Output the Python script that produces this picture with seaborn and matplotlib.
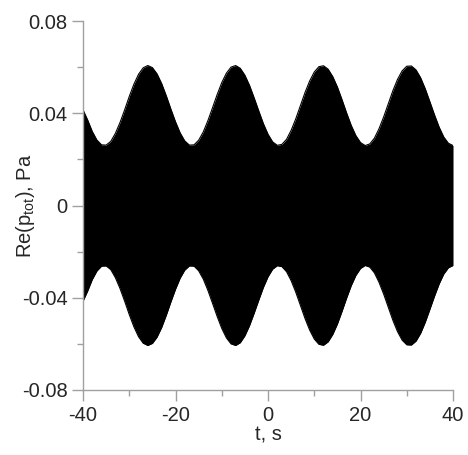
import numpy as np
import pandas as pd
import matplotlib
matplotlib.use("Agg")
import matplotlib.pyplot as plt
from matplotlib.ticker import MultipleLocator, FixedLocator
import seaborn as sns

# envelope of Re(p_tot), one value per second
t_s = list(range(-40, 41))
env_pa = [0.0415, 0.0371, 0.0321, 0.0284, 0.0263, 0.0262, 0.0278, 0.0313, 0.0360, 0.0415,
          0.0473, 0.0526, 0.0569, 0.0597, 0.0607, 0.0598, 0.0571, 0.0529, 0.0476, 0.0418,
          0.0363, 0.0315, 0.0280, 0.0262, 0.0263, 0.0283, 0.0319, 0.0368, 0.0424, 0.0481,
          0.0533, 0.0574, 0.0600, 0.0607, 0.0595, 0.0565, 0.0521, 0.0467, 0.0410, 0.0355,
          0.0309, 0.0276, 0.0261, 0.0265, 0.0287, 0.0326, 0.0376, 0.0433, 0.0490, 0.0540,
          0.0579, 0.0602, 0.0606, 0.0591, 0.0559, 0.0514, 0.0459, 0.0401, 0.0347, 0.0303,
          0.0273, 0.0260, 0.0267, 0.0292, 0.0333, 0.0384, 0.0441, 0.0498, 0.0547, 0.0584,
          0.0604, 0.0605, 0.0588, 0.0554, 0.0506, 0.0450, 0.0393, 0.0340, 0.0297, 0.0270,
          0.0260]

xticks = [-40, -20, 0, 20, 40]
xtick_labels = ["-40", "-20", "0", "20", "40"]
yticks = [-0.08, -0.04, 0, 0.04, 0.08]
ytick_labels = ["-0.08", "-0.04", "0", "0.04", "0.08"]

df = pd.DataFrame({"t": t_s, "upper": env_pa})
df["lower"] = -df["upper"]

sns.set_style("ticks")
plt.rcParams["font.family"] = ["Liberation Sans", "DejaVu Sans"]
plt.rcParams["mathtext.fontset"] = "custom"
plt.rcParams["mathtext.rm"] = "Liberation Sans"
plt.rcParams["mathtext.it"] = "Liberation Sans"
plt.rcParams["axes.unicode_minus"] = False

fig = plt.figure(figsize=(4.68, 4.55), dpi=100)
ax = fig.add_axes([0.1774, 0.1429, 0.7906, 0.8109])

sns.lineplot(data=df, x="t", y="upper", ax=ax, color="black", lw=0.8)
sns.lineplot(data=df, x="t", y="lower", ax=ax, color="black", lw=0.8)
ax.fill_between(df["t"], df["lower"], df["upper"], color="black", lw=0)

ax.set_xlim(-40, 40)
ax.set_ylim(-0.08, 0.08)
ax.xaxis.set_major_locator(FixedLocator(xticks))
ax.set_xticklabels(xtick_labels)
ax.xaxis.set_minor_locator(MultipleLocator(10))
ax.yaxis.set_major_locator(FixedLocator(yticks))
ax.set_yticklabels(ytick_labels)
ax.yaxis.set_minor_locator(MultipleLocator(0.02))

sns.despine(ax=ax)
for side in ["left", "bottom"]:
    ax.spines[side].set_color("#a0a0a0")
    ax.spines[side].set_linewidth(1.0)
ax.tick_params(which="major", length=8, width=1, color="#a0a0a0", labelsize=14.5)
ax.tick_params(axis="x", which="major", pad=3.5)
ax.tick_params(axis="y", which="major", pad=3)
ax.tick_params(which="minor", length=4, width=1, color="#a0a0a0")

ax.set_xlabel("t, s", fontsize=14.5)
ax.set_ylabel(r"Re(p$_{\mathrm{tot}}$), Pa", fontsize=14.5)
ax.xaxis.set_label_coords(0.5, -0.096)
ax.yaxis.set_label_coords(-0.125, 0.5)

fig.savefig("out.png", dpi=100)
